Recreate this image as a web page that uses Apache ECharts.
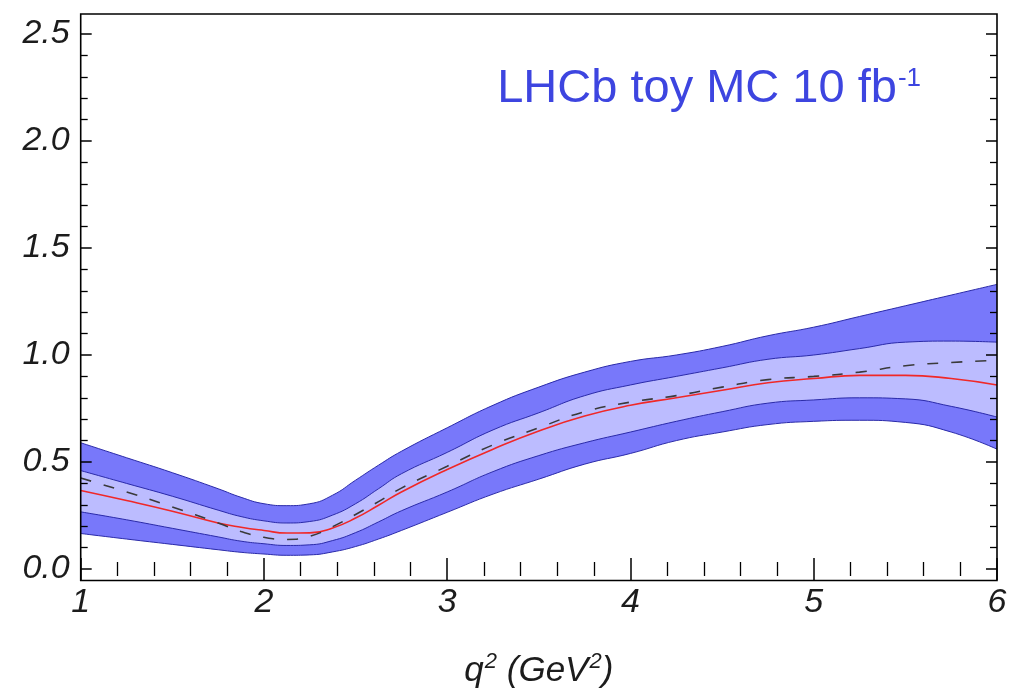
<!DOCTYPE html>
<html>
<head>
<meta charset="utf-8">
<script src="https://cdn.jsdelivr.net/npm/echarts@6/dist/echarts.min.js"></script>
<style>
  html, body { margin: 0; padding: 0; background: #fff; }
  #chart { width: 1012px; height: 694px; }
</style>
</head>
<body>
<div id="chart"></div>
<script>
// q^2 grid (GeV^2), denser around the minimum
const q2 = [1, 1.25, 1.5, 1.75, 1.875, 2, 2.125, 2.25, 2.375, 2.5, 2.625, 2.75, 3, 3.25, 3.5, 3.75, 4, 4.25, 4.5, 4.75, 5, 5.25, 5.5, 5.75, 6];

// outer (2 sigma) band
const outerHigh = [0.59, 0.52, 0.45, 0.375, 0.335, 0.305, 0.296, 0.305, 0.345, 0.415, 0.485, 0.55, 0.66, 0.765, 0.85, 0.92, 0.97, 1.00, 1.04, 1.09, 1.13, 1.18, 1.23, 1.28, 1.33];
const outerLow  = [0.166, 0.14, 0.115, 0.09, 0.078, 0.07, 0.064, 0.066, 0.08, 0.105, 0.14, 0.18, 0.265, 0.35, 0.42, 0.49, 0.54, 0.60, 0.64, 0.675, 0.69, 0.695, 0.685, 0.64, 0.56];

// inner (1 sigma) band
const innerHigh = [0.46, 0.40, 0.34, 0.275, 0.245, 0.225, 0.215, 0.222, 0.252, 0.305, 0.375, 0.445, 0.545, 0.65, 0.73, 0.81, 0.86, 0.90, 0.94, 0.98, 1.00, 1.03, 1.06, 1.065, 1.06];
const innerLow  = [0.267, 0.23, 0.19, 0.15, 0.13, 0.118, 0.11, 0.113, 0.133, 0.17, 0.22, 0.272, 0.36, 0.455, 0.53, 0.59, 0.64, 0.69, 0.735, 0.775, 0.79, 0.80, 0.795, 0.76, 0.71];

// central prediction (dashed) and fitted curve (red)
const central = [0.425, 0.36, 0.29, 0.215, 0.175, 0.148, 0.138, 0.153, 0.198, 0.255, 0.315, 0.378, 0.48, 0.58, 0.66, 0.735, 0.78, 0.81, 0.85, 0.885, 0.90, 0.92, 0.95, 0.965, 0.975];
const fitted  = [0.367, 0.32, 0.27, 0.215, 0.195, 0.18, 0.168, 0.169, 0.192, 0.238, 0.298, 0.36, 0.465, 0.56, 0.645, 0.715, 0.765, 0.80, 0.835, 0.87, 0.89, 0.905, 0.905, 0.89, 0.86];

// axis tick labels
const xTicks = ['1', '2', '3', '4', '5', '6'];
const yTicks = ['0.0', '0.5', '1.0', '1.5', '2.0', '2.5'];

const DARK = '#7878fa';
const LIGHT = '#bcbcff';
const EDGE = '#2a2aa8';
const FONT = '"Liberation Sans", Arial, Helvetica, sans-serif';

const pairs = (ys) => q2.map((x, i) => [x, ys[i]]);

const SMOOTH = 0.5;

// Each band edge fills down towards the axis; painting from the top edge down
// leaves dark / light / dark strips between consecutive edges, and the white
// fill under the lowest edge clears the rest.
function bandEdge(name, ys, fill, origin, z) {
  return {
    name, type: 'line', xAxisIndex: 0, yAxisIndex: 0,
    data: pairs(ys), smooth: SMOOTH, symbol: 'none', silent: true,
    lineStyle: { color: EDGE, width: 1 },
    areaStyle: { color: fill, opacity: 1, origin },
    z
  };
}

const tickCommon = {
  z: 20,
  axisTick: { show: true, inside: true, length: 11, lineStyle: { color: '#000', width: 1.5 } },
  minorTick: { show: true, splitNumber: 5, length: 7, lineStyle: { color: '#000', width: 1.3 } },
  splitLine: { show: false },
  minorSplitLine: { show: false },
  axisLine: { show: false }
};

const labelFont = { fontFamily: FONT, fontStyle: 'italic', fontSize: 34, color: '#1c1c1c' };
const nameBase = { fontFamily: FONT, fontStyle: 'italic', color: '#1c1c1c' };

const chart = echarts.init(document.getElementById('chart'), null, { renderer: 'canvas' });

chart.setOption({
  animation: false,
  backgroundColor: '#fff',
  title: {
    text: '{m|LHCb toy MC 10 fb}{s|-1}',
    right: 86,
    top: 56,
    textStyle: {
      rich: {
        m: { fontFamily: FONT, fontSize: 47, fontWeight: 'normal', color: '#3d45e0', lineHeight: 52, verticalAlign: 'bottom' },
        s: { fontFamily: FONT, fontSize: 26, fontWeight: 'normal', color: '#3d45e0', lineHeight: 52, verticalAlign: 'top', padding: [5, 0, 0, 1] }
      }
    }
  },
  grid: [
    // data area: y from 0 to 2.5
    { left: 80.7, right: 15, top: 34, bottom: 123.5, containLabel: false },
    // outer frame
    { left: 80.7, right: 15, top: 14, bottom: 113.5, show: true, borderColor: '#000', borderWidth: 1.6, backgroundColor: 'transparent', z: 30 }
  ],
  xAxis: [
    Object.assign({
      type: 'value', gridIndex: 0, min: 1, max: 6, interval: 1, position: 'bottom', offset: 10,
      axisLabel: Object.assign({ margin: 7, formatter: (v) => xTicks[Math.round(v) - 1] }, labelFont),
      name: '{n|q}{s|2}{n| (GeV}{s|2}{n|)}', nameLocation: 'middle', nameGap: 70,
      nameTextStyle: {
        rich: {
          n: Object.assign({ fontSize: 35, lineHeight: 40, verticalAlign: 'bottom' }, nameBase),
          s: Object.assign({ fontSize: 22, lineHeight: 40, verticalAlign: 'top', padding: [2, 0, 0, 1] }, nameBase)
        }
      }
    }, tickCommon),
    Object.assign({
      type: 'value', gridIndex: 0, min: 1, max: 6, interval: 1, position: 'top', offset: 20,
      axisLabel: { show: false }
    }, tickCommon),
    { type: 'value', gridIndex: 1, min: 1, max: 6, show: false }
  ],
  yAxis: [
    Object.assign({
      type: 'value', gridIndex: 0, min: 0, max: 2.5, interval: 0.5, position: 'left',
      axisLabel: Object.assign({ margin: 11, formatter: (v) => yTicks[Math.round(v * 2)] }, labelFont)
    }, tickCommon),
    Object.assign({
      type: 'value', gridIndex: 0, min: 0, max: 2.5, interval: 0.5, position: 'right',
      axisLabel: { show: false }
    }, tickCommon),
    { type: 'value', gridIndex: 1, min: 0, max: 1, show: false }
  ],
  series: [
    bandEdge('outerHigh', outerHigh, DARK, 0.03, 2),
    bandEdge('innerHigh', innerHigh, LIGHT, 0.03, 3),
    bandEdge('innerLow', innerLow, DARK, 0.03, 4),
    bandEdge('outerLow', outerLow, '#ffffff', 0, 5),
    {
      name: 'fit', type: 'line', xAxisIndex: 0, yAxisIndex: 0,
      data: pairs(fitted), smooth: SMOOTH, symbol: 'none', silent: true,
      lineStyle: { color: '#f02828', width: 1.6 }, z: 6
    },
    {
      name: 'central', type: 'line', xAxisIndex: 0, yAxisIndex: 0,
      data: pairs(central), smooth: SMOOTH, symbol: 'none', silent: true,
      lineStyle: { color: '#3a3a3a', width: 1.6, type: [11, 13] }, z: 7
    }
  ]
});
</script>
</body>
</html>
